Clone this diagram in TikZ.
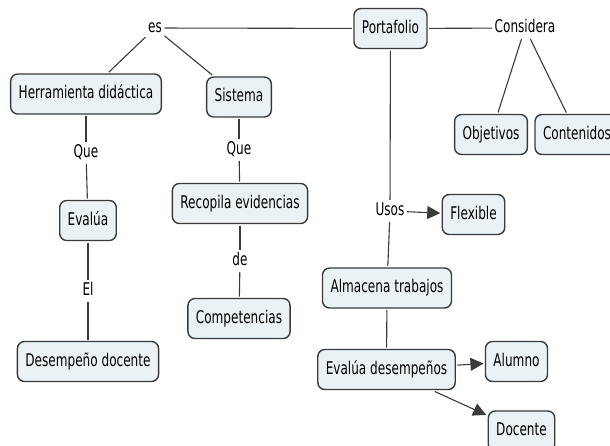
\documentclass[tikz,border=0pt]{standalone}
\usepackage{fontspec}
\setmainfont{DejaVu Sans}[FakeStretch=0.69]
\usetikzlibrary{arrows.meta}
\definecolor{boxfill}{HTML}{EAF2F5}
\definecolor{boxline}{HTML}{3A3A3A}
\definecolor{linkgray}{HTML}{3A3A3A}
\begin{document}
\begin{tikzpicture}[x=1pt,y=-1pt,
  concept/.style={draw=boxline,fill=boxfill,line width=1.4pt,rounded corners=7pt,
    minimum height=40pt,inner xsep=8pt,text height=13pt,text depth=3.5pt,
    font=\fontsize{17.5}{20}\selectfont,outer sep=2pt},
  linkword/.style={inner sep=2.5pt,text height=13pt,text depth=3.5pt,
    font=\fontsize{17.5}{20}\selectfont},
  link/.style={draw=linkgray,line width=1.1pt},
  arr/.style={link,-{Triangle[length=13pt,width=13pt]}}]
\useasboundingbox (0,0) rectangle (610,445);
% concepts
\node [concept] (portafolio) at (390.5,28.5) {Portafolio};
\node [concept] (herramienta) at (86,94) {Herramienta didáctica};
\node [concept] (sistema) at (239,97) {Sistema};
\node [concept] (evalua) at (88,220.5) {Evalúa};
\node [concept] (desempeno) at (88,361.5) {Desempeño docente};
\node [concept] (recopila) at (240,203.5) {Recopila evidencias};
\node [concept] (competencias) at (239,318.5) {Competencias};
\node [concept] (objetivos) at (491,134.5) {Objetivos};
\node [concept] (contenidos) at (577,134.5) {Contenidos};
\node [concept] (flexible) at (473.5,214.5) {Flexible};
\node [concept] (almacena) at (387,288) {Almacena trabajos};
\node [concept] (evaluades) at (386.5,369.5) {Evalúa desempeños};
\node [concept] (alumno) at (516.5,361.5) {Alumno};
\node [concept] (docente) at (521.5,431) {Docente};
% linking words
\node [linkword] (es) at (155,28) {es};
\node [linkword] (considera) at (525,28) {Considera};
\node [linkword] (que1) at (86,153) {Que};
\node [linkword] (que2) at (239,150) {Que};
\node [linkword] (el) at (88,291) {El};
\node [linkword] (de) at (240,261) {de};
\node [linkword] (usos) at (390,211) {Usos};
% connectors
\draw [link] (portafolio) -- (es);
\draw [link] (es) -- (herramienta);
\draw [link] (es) -- (sistema);
\draw [link] (herramienta) -- (que1);
\draw [link] (que1) -- (evalua);
\draw [link] (evalua) -- (el);
\draw [link] (el) -- (desempeno);
\draw [link] (sistema) -- (que2);
\draw [link] (que2) -- (recopila);
\draw [link] (recopila) -- (de);
\draw [link] (de) -- (competencias);
\draw [link] (portafolio) -- (considera);
\draw [link] (considera) -- (objetivos);
\draw [link] (considera) -- (contenidos);
\draw [link] (portafolio) -- (usos);
\draw [arr] (usos) -- (flexible);
\draw [link] (usos) -- (almacena);
\draw [link] (almacena) -- (evaluades);
\draw [arr] (evaluades) -- (alumno);
\draw [arr] (evaluades) -- (docente);
\end{tikzpicture}
\end{document}
